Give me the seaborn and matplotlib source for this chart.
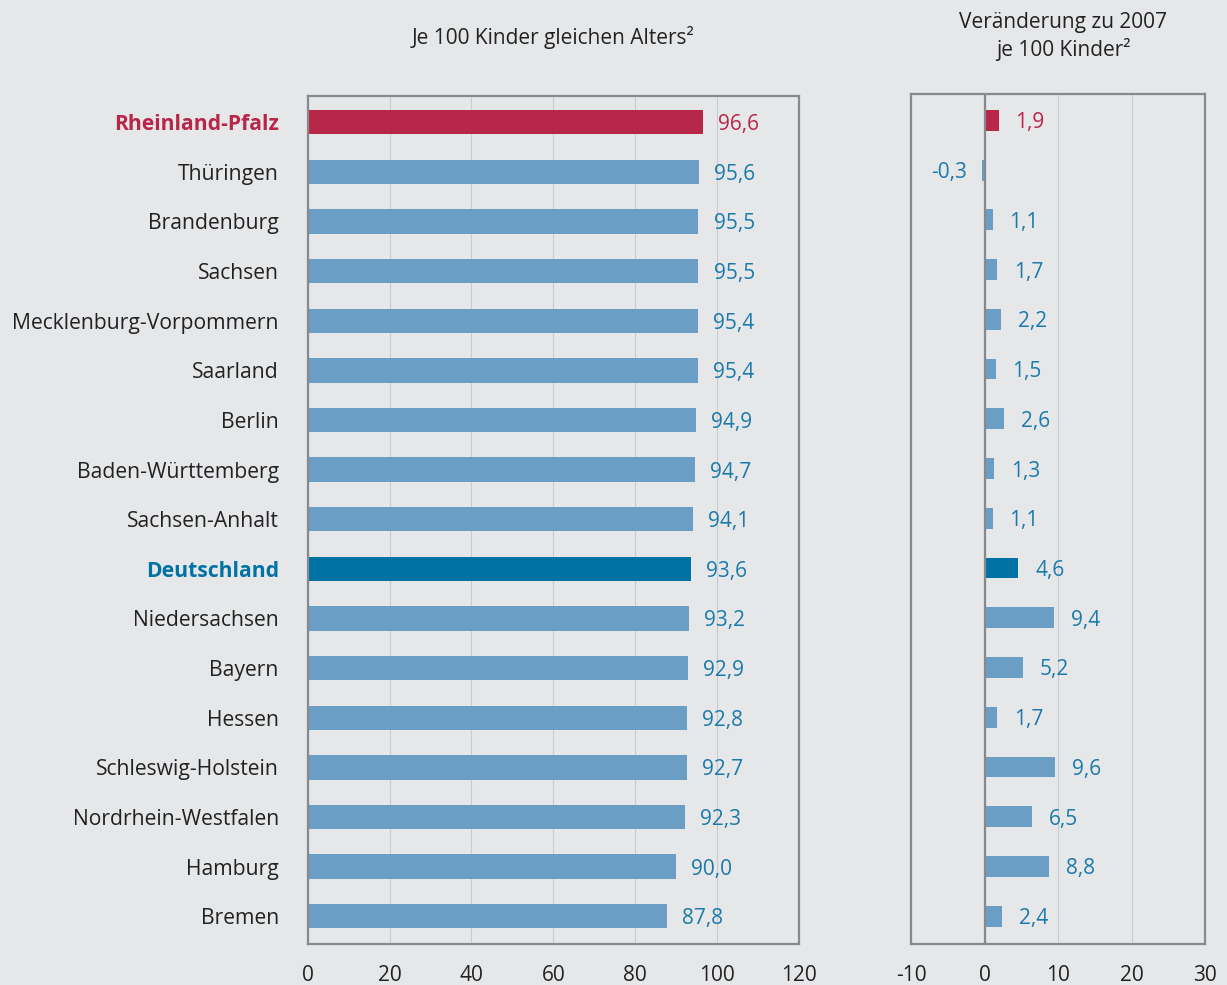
import pandas as pd
import matplotlib.pyplot as plt
import seaborn as sns

# data
laender = ["Rheinland-Pfalz", "Thüringen", "Brandenburg", "Sachsen",
           "Mecklenburg-Vorpommern", "Saarland", "Berlin", "Baden-Württemberg",
           "Sachsen-Anhalt", "Deutschland", "Niedersachsen", "Bayern", "Hessen",
           "Schleswig-Holstein", "Nordrhein-Westfalen", "Hamburg", "Bremen"]
quote = [96.6, 95.6, 95.5, 95.5, 95.4, 95.4, 94.9, 94.7, 94.1, 93.6,
         93.2, 92.9, 92.8, 92.7, 92.3, 90.0, 87.8]
veraenderung = [1.9, -0.3, 1.1, 1.7, 2.2, 1.5, 2.6, 1.3, 1.1, 4.6,
                9.4, 5.2, 1.7, 9.6, 6.5, 8.8, 2.4]

BG = "#e6e7e9"
SPINE = "#88898d"
GRID = "#c9cbce"
RED = "#b8274a"
LIGHT = "#6a9ec5"
DARK = "#0073a4"
VALTXT = "#1a7aab"
TXT = "#222222"


def bar_color(name):
    if name == "Rheinland-Pfalz":
        return RED
    if name == "Deutschland":
        return DARK
    return LIGHT


def text_color(name):
    if name == "Rheinland-Pfalz":
        return RED
    if name == "Deutschland":
        return DARK
    return TXT


def fmt(v):
    return f"{v:.1f}".replace(".", ",")


def style_axes(ax, xlim, xticks):
    ax.set_facecolor(BG)
    ax.set_xlim(*xlim)
    ax.set_ylim(16.56, -0.53)
    ax.set_xticks(xticks)
    ax.set_xticklabels([str(t) for t in xticks], fontsize=15, color=TXT)
    ax.tick_params(axis="x", length=7, width=1.5, color=SPINE, pad=8)
    ax.xaxis.grid(True, color=GRID, linewidth=0.8)
    ax.yaxis.grid(False)
    ax.set_axisbelow(True)
    for s in ax.spines.values():
        s.set_visible(True)
        s.set_color(SPINE)
        s.set_linewidth(1.6)
    ax.set_xlabel("")
    ax.set_ylabel("")


df = pd.DataFrame({"land": laender, "quote": quote, "veraenderung": veraenderung})
palette = {n: bar_color(n) for n in laender}

sns.set_theme(style="white")
plt.rcParams["font.family"] = ["Open Sans", "DejaVu Sans"]

fig = plt.figure(figsize=(12.27, 9.85), dpi=100, facecolor=BG)
ax1 = fig.add_axes([0.2510, 0.0416, 0.3998, 0.8610])
ax2 = fig.add_axes([0.7425, 0.0416, 0.2396, 0.8630])

# left panel
sns.barplot(data=df, x="quote", y="land", hue="land", palette=palette,
            orient="h", width=0.49, legend=False, ax=ax1,
            saturation=1, linewidth=0)
style_axes(ax1, (0, 120), [0, 20, 40, 60, 80, 100, 120])
ax1.tick_params(axis="y", length=0, pad=21)
ax1.set_yticks(range(len(laender)))
ax1.set_yticklabels(laender, fontsize=15.2)
for lbl, name in zip(ax1.get_yticklabels(), laender):
    lbl.set_color(text_color(name))
    if name in ("Rheinland-Pfalz", "Deutschland"):
        lbl.set_fontweight("bold")
for i, (name, v) in enumerate(zip(laender, quote)):
    c = RED if name == "Rheinland-Pfalz" else VALTXT
    ax1.text(v + 3.7, i, fmt(v), va="center_baseline", ha="left", fontsize=15, color=c)

# right panel
sns.barplot(data=df, x="veraenderung", y="land", hue="land", palette=palette,
            orient="h", width=0.42, legend=False, ax=ax2,
            saturation=1, linewidth=0)
style_axes(ax2, (-10, 30), [-10, 0, 10, 20, 30])
ax2.set_yticks([])
ax2.axvline(0, color=SPINE, linewidth=1.6, zorder=3)
for i, (name, v) in enumerate(zip(laender, veraenderung)):
    c = RED if name == "Rheinland-Pfalz" else VALTXT
    if v < 0:
        ax2.text(-2.4, i, fmt(v), va="center_baseline", ha="right", fontsize=15, color=c)
    else:
        ax2.text(v + 2.3, i, fmt(v), va="center_baseline", ha="left", fontsize=15, color=c)

fig.text(0.4509, 0.962, "Je 100 Kinder gleichen Alters²", ha="center", va="center",
         fontsize=15, color=TXT)
fig.text(0.8665, 0.963, "Veränderung zu 2007\nje 100 Kinder²", ha="center", va="center",
         fontsize=15, color=TXT, linespacing=1.25)

fig.savefig("out.png", dpi=100, facecolor=BG)
